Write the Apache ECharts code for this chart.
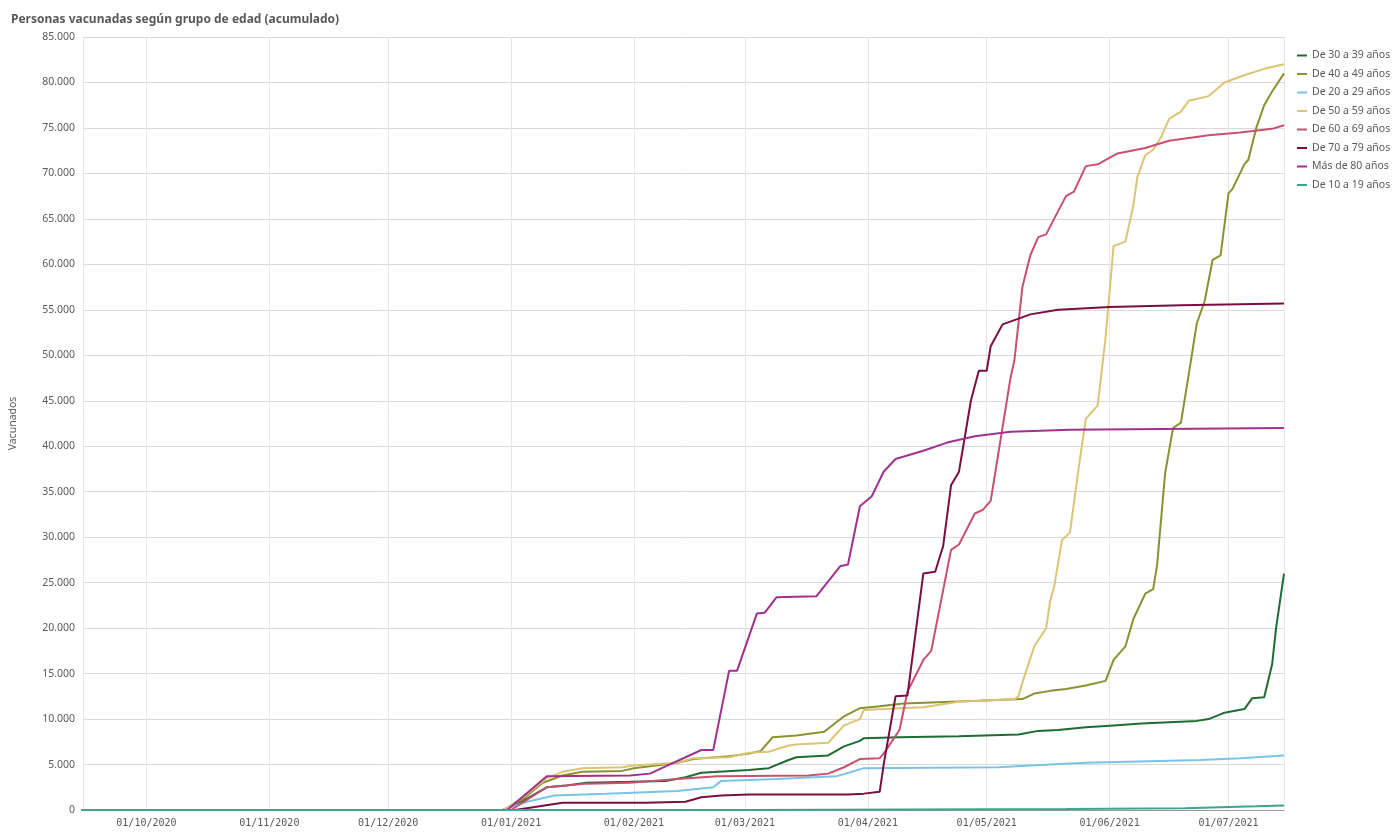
<!DOCTYPE html>
<html lang="es">
<head>
    <meta charset="UTF-8">
    <title>Personas vacunadas</title>
    <script src="https://cdn.jsdelivr.net/npm/echarts@6/dist/echarts.min.js"></script>
    <style>
        body { margin: 0; background: #fff; }
        #main { width: 1392px; height: 835px; }
    </style>
</head>
<body>
    <div id="main"></div>
    <script>
        // [días desde 01/01/2021, vacunados]
        let names = ['De 30 a 39 años', 'De 40 a 49 años', 'De 20 a 29 años', 'De 50 a 59 años',
            'De 60 a 69 años', 'De 70 a 79 años', 'Más de 80 años', 'De 10 a 19 años']
        let colors = ['#1e6b34', '#8a9133', '#7cc3e8', '#dcc475', '#c9506e', '#7b0d45', '#a3308e', '#3ba58f']

        let d30 = [[-110, 0], [-2, 0], [3, 1000], [9, 2500], [14, 2700], [19, 3000], [30, 3100], [39, 3200], [44, 3600], [48, 4100], [60, 4400], [65, 4600], [70, 5500], [72, 5800], [80, 6000], [84, 7000], [88, 7600], [89, 7900], [98, 8000], [113, 8100], [128, 8300], [133, 8700], [138, 8800], [145, 9100], [152, 9300], [159, 9500], [173, 9800], [176, 10000], [180, 10700], [185, 11100], [187, 12300], [190, 12400], [192, 16000], [193, 20000], [195, 26000]]
        let d40 = [[-110, 0], [-2, 0], [3, 1200], [8, 3000], [13, 3800], [18, 4200], [28, 4300], [31, 4600], [42, 5200], [46, 5600], [55, 5900], [60, 6200], [63, 6500], [66, 8000], [72, 8200], [79, 8600], [84, 10300], [88, 11200], [93, 11400], [99, 11700], [118, 12000], [129, 12200], [132, 12800], [136, 13100], [140, 13300], [145, 13700], [150, 14200], [152, 16500], [155, 18000], [157, 21000], [160, 23800], [162, 24300], [163, 27000], [165, 37000], [167, 42000], [169, 42600], [171, 48000], [173, 53500], [175, 56000], [177, 60500], [179, 61000], [181, 67800], [182, 68300], [185, 71000], [186, 71500], [188, 75000], [190, 77500], [192, 79000], [195, 81000]]
        let d20 = [[-110, 0], [-2, 0], [4, 900], [11, 1600], [24, 1800], [42, 2100], [51, 2500], [53, 3200], [67, 3400], [71, 3500], [82, 3700], [86, 4200], [89, 4600], [123, 4700], [131, 4900], [145, 5200], [174, 5500], [184, 5700], [195, 6000]]
        let d50 = [[-110, 0], [-2, 0], [3, 1400], [9, 3500], [13, 4200], [18, 4600], [28, 4700], [31, 4900], [42, 5200], [46, 5700], [55, 5800], [60, 6300], [65, 6400], [70, 7100], [72, 7200], [80, 7400], [84, 9300], [88, 10000], [89, 11000], [94, 11100], [104, 11300], [113, 11900], [127, 12200], [128, 12500], [129, 14000], [132, 18000], [135, 20000], [136, 23000], [137, 24500], [139, 29700], [141, 30500], [143, 37000], [145, 43000], [148, 44500], [150, 52000], [152, 62000], [155, 62500], [157, 66500], [158, 69600], [160, 72000], [162, 72600], [164, 74000], [166, 76000], [169, 76800], [171, 78000], [176, 78500], [180, 80000], [185, 80800], [190, 81500], [195, 82000]]
        let d60 = [[-110, 0], [0, 0], [9, 2500], [19, 2900], [30, 3000], [42, 3400], [52, 3700], [75, 3800], [80, 4000], [84, 4700], [88, 5600], [93, 5700], [94, 6200], [98, 8800], [100, 13000], [104, 16500], [106, 17500], [111, 28600], [113, 29200], [117, 32600], [119, 33000], [121, 34000], [126, 47500], [127, 49500], [129, 57500], [131, 61000], [133, 63000], [135, 63300], [137, 65000], [140, 67500], [142, 68000], [145, 70800], [148, 71000], [153, 72200], [160, 72800], [166, 73600], [176, 74200], [184, 74500], [192, 74900], [195, 75300]]
        let d70 = [[-110, 0], [1, 0], [13, 800], [34, 800], [44, 900], [48, 1400], [53, 1600], [60, 1700], [85, 1700], [89, 1800], [93, 2000], [94, 5000], [97, 12500], [100, 12600], [104, 26000], [107, 26200], [109, 29000], [111, 35700], [113, 37200], [116, 45000], [118, 48300], [120, 48300], [121, 51000], [124, 53400], [131, 54500], [138, 55000], [151, 55300], [169, 55500], [195, 55700]]
        let d80 = [[-110, 0], [-1, 0], [9, 3700], [30, 3800], [35, 4000], [48, 6600], [51, 6600], [55, 15300], [57, 15300], [62, 21600], [64, 21700], [67, 23400], [77, 23500], [83, 26800], [85, 27000], [88, 33400], [91, 34500], [94, 37200], [97, 38600], [104, 39500], [110, 40400], [117, 41100], [126, 41600], [141, 41800], [195, 42000]]
        let d10 = [[-110, 0], [60, 0], [140, 100], [170, 200], [188, 400], [195, 500]]

        let datasets = [d30, d40, d20, d50, d60, d70, d80, d10]
        let base = new Date(2021, 0, 1).getTime()
        let DAY = 86400000

        function pad(n) { return n < 10 ? '0' + n : '' + n }

        var chartDom = document.getElementById('main');
        var myChart = echarts.init(chartDom);
        var option;

        option = {
            animation: false,
            title: {
                text: 'Personas vacunadas según grupo de edad (acumulado)',
                left: 6,
                top: 9,
                textStyle: { fontFamily: 'Noto Sans', fontSize: 12, fontWeight: 'bold', color: '#595959' }
            },
            legend: {
                orient: 'vertical',
                left: 1292,
                top: 45,
                itemWidth: 10,
                itemHeight: 2,
                itemGap: 7.5,
                icon: 'rect',
                data: names,
                textStyle: { fontFamily: 'Noto Sans', fontSize: 10.5, color: '#595959' }
            },
            grid: { left: 82, right: 108, top: 37, bottom: 25 },
            xAxis: {
                type: 'time',
                min: base - 108 * DAY,
                max: base + 195 * DAY,
                splitNumber: 10,
                axisLine: { lineStyle: { color: '#999' } },
                axisTick: { show: false },
                splitLine: { show: true, lineStyle: { color: '#e6e6e6' } },
                axisLabel: {
                    showMinLabel: false,
                    showMaxLabel: false,
                    color: '#595959',
                    fontFamily: 'DejaVu Sans Mono',
                    fontSize: 10,
                    formatter: function (v) {
                        let d = new Date(v)
                        return pad(d.getDate()) + '/' + pad(d.getMonth() + 1) + '/' + d.getFullYear()
                    }
                }
            },
            yAxis: {
                type: 'value',
                min: 0,
                max: 85000,
                interval: 5000,
                name: 'Vacunados',
                nameLocation: 'middle',
                nameGap: 64,
                nameTextStyle: { color: '#595959', fontSize: 10.5, fontFamily: 'Noto Sans' },
                axisLine: { show: false },
                axisTick: { show: false },
                splitLine: { lineStyle: { color: '#d9d9d9' } },
                axisLabel: {
                    color: '#595959',
                    fontFamily: 'Noto Sans',
                    fontSize: 10.5,
                    formatter: function (v) { return v.toLocaleString('de-DE') }
                }
            },
            series: names.map((n, i) => ({
                name: n,
                type: 'line',
                showSymbol: false,
                symbol: 'none',
                color: colors[i],
                lineStyle: { width: 2 },
                data: datasets[i].map(p => [base + p[0] * DAY, p[1]])
            }))
        };

        option && myChart.setOption(option);
    </script>
</body>
</html>
